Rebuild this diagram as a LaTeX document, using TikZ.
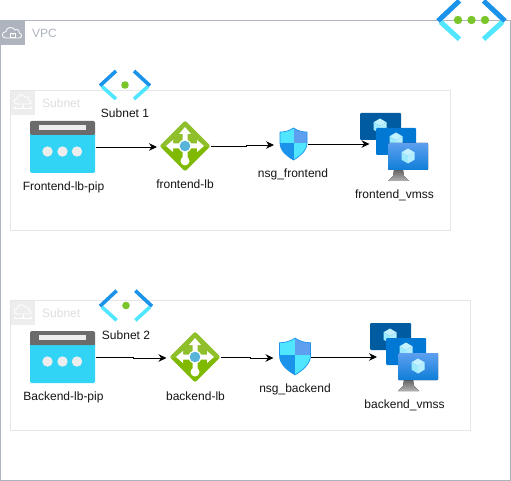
\documentclass[tikz,border=0pt]{standalone}
\usepackage{fontspec}
\setmainfont{Liberation Sans}
\usetikzlibrary{arrows.meta}
\definecolor{vpcgray}{HTML}{AEB4BD}
\definecolor{subgray}{HTML}{E6E6E6}
\definecolor{azdark}{HTML}{1B93EB}
\definecolor{azlight}{HTML}{50E6FF}
\definecolor{azgreen}{HTML}{7FBA00}
\definecolor{azgreenb}{HTML}{8FBF2A}
\definecolor{azdot}{HTML}{7AC52A}
\definecolor{lbblue}{HTML}{59B4D9}
\definecolor{pipcyan}{HTML}{32D4F5}
\definecolor{pipgray}{HTML}{6B6B6B}
\definecolor{vmdark}{HTML}{005BA1}
\definecolor{vmmid}{HTML}{0078D4}
\definecolor{vmtop}{HTML}{5EA0EF}
\definecolor{cubea}{HTML}{C3F1FF}
\definecolor{cubeb}{HTML}{9CEBFF}
\definecolor{cubec}{HTML}{B5EFFF}
\definecolor{shieldtop}{HTML}{5EA0EF}
\newcommand\netw{3.6pt}
\tikzset{
  x=1pt,y=-1pt,
  lbl/.style={font=\fontsize{12}{14}\selectfont,text=black!92,inner sep=0pt},
  anchorbox/.style={inner sep=0pt,outer sep=0pt},
  groupbox/.style={line width=0.8pt,anchor=north west,inner sep=0pt,outer sep=0pt},
  flow/.style={draw=black,line width=0.8pt,-{Stealth[length=8pt,width=7.5pt]}},
  cube/.pic={
    \fill[cubea] (0,-7.5) -- (6.5,-3.7) -- (0,0) -- (-6.5,-3.7) -- cycle;
    \fill[cubeb] (-6.5,-3.7) -- (0,0) -- (0,7.5) -- (-6.5,3.7) -- cycle;
    \fill[cubec] (6.5,-3.7) -- (0,0) -- (0,7.5) -- (6.5,3.7) -- cycle;
  },
  pipicon/.pic={
    \fill[pipcyan,rounded corners=1.5pt] (-32.5,-14) rectangle (32.5,26);
    \fill[pipgray,rounded corners=1.5pt] (-32.5,-26) rectangle (32.5,-12);
    \fill[pipgray] (-32.5,-18) rectangle (32.5,-12.5);
    \fill[white!93!black] (-23.5,-22) rectangle (23.5,-17);
    \foreach \cx in {-15,0,14.5} \fill[white!93!black] (\cx,4.5) circle[radius=5.2];
  },
  lbicon/.pic={
    \fill[azgreenb,rounded corners=2pt] (0,-25.5) -- (25.5,0) -- (0,25.5) -- (-25.5,0) -- cycle;
    \fill[azgreen,rounded corners=1.5pt] (-24,1) -- (0,25) -- (24,1) -- cycle;
    \fill[white] (0,-19) -- (6,-12) -- (2.5,-12) -- (2.5,12) -- (-2.5,12) -- (-2.5,-12) -- (-6,-12) -- cycle;
    \fill[white] (-19,0) -- (-12,-6) -- (-12,-2.5) -- (12,-2.5) -- (12,-6) -- (19,0) -- (12,6) -- (12,2.5) -- (-12,2.5) -- (-12,6) -- cycle;
    \fill[white] (0,15) circle[radius=4.5];
    \fill[white] (0,0) circle[radius=6.5];
    \fill[lbblue] (0,0) circle[radius=5.3];
  },
  shieldicon/.pic={
    \def\shieldpath{(0,-16) .. controls (5,-12.5) and (10,-12) .. (13.5,-12) -- (13.5,-1) .. controls (13.5,7) and (6,12.5) .. (0,16) .. controls (-6,12.5) and (-13.5,7) .. (-13.5,-1) -- (-13.5,-12) .. controls (-10,-12) and (-5,-12.5) .. (0,-16) -- cycle}
    \begin{scope}
      \clip \shieldpath;
      \fill[azlight] (-15,-17) rectangle (0,-1);
      \fill[shieldtop] (0,-17) rectangle (15,-1);
      \fill[azdark] (-15,-1) rectangle (0,17);
      \fill[azlight] (0,-1) rectangle (15,17);
    \end{scope}
    \draw[azdark,line width=0.7pt,line join=round] \shieldpath;
  },
  vmssicon/.pic={
    \fill[vmdark,rounded corners=1pt] (0,0) rectangle (41,27);
    \pic at (20,13) {cube};
    \fill[vmmid,rounded corners=1pt] (16,15) rectangle (56,42);
    \pic at (36,27) {cube};
    \fill[top color=black!60,bottom color=black!30] (34,57) -- (43,57) -- (44,63) -- (49,68) -- (28,68) -- (33,63) -- cycle;
    \fill[rounded corners=1pt,top color=vmtop,bottom color=vmmid!85!vmtop] (28,30) rectangle (68,57);
    \pic at (48,43) {cube};
  },
  networkicon/.pic={
    \draw[azdark,line width=\netw,line cap=butt] (-25,0.7) -- (-9,-14);
    \draw[azdark,line width=\netw,line cap=butt] (25,0.7) -- (9,-14);
    \draw[azlight,line width=\netw,line cap=butt] (-23,1.5) -- (-9,14);
    \draw[azlight,line width=\netw,line cap=butt] (23,1.5) -- (9,14);
  },
  cloudtag/.pic={
    \draw[white,line width=0.8pt,line join=round] (-7,5) .. controls (-12,5) and (-12,-1) .. (-7,-1.5) .. controls (-7,-6) and (0,-7) .. (2,-3) .. controls (5,-4.5) and (7,-2) .. (6.5,0) .. controls (9.5,1) and (9,5) .. (6,5) -- cycle;
  }
}
\begin{document}
\begin{tikzpicture}[x=1pt,y=-1pt]
\useasboundingbox (0,0) rectangle (511,481);
\fill[white] (0,0) rectangle (511,481);
% VPC group
\node[groupbox,draw=vpcgray,minimum width=509.8pt,minimum height=459.6pt] (vpc) at (0.5,20.4) {};
\fill[vpcgray] (0,20) rectangle (25,45);
\pic at (13,33) {cloudtag};
\draw[white,line width=0.7pt] (10.5,33) rectangle (15.5,37);
\draw[white,line width=0.6pt] (11.5,33) arc[start angle=180,end angle=0,radius=1.5];
\node[anchor=west,inner sep=0pt,text=vpcgray,font=\fontsize{12}{14}\selectfont] (vpcl) at (32,33.5) {VPC};
% Subnets
\node[groupbox,draw=subgray,minimum width=440pt,minimum height=140pt] (sub1) at (10.3,90.3) {};
\node[groupbox,draw=subgray,minimum width=460pt,minimum height=130pt] (sub2) at (10.3,300.3) {};
\foreach \ty/\nm in {90/a,300/b}{
  \fill[white!93!black] (11,\ty+1) rectangle (35,\ty+25);
  \begin{scope}[shift={(23,\ty+12)}]
    \draw[white,line width=0.8pt,line join=round] (-6,2) .. controls (-10,2) and (-10,-3) .. (-6,-3.5) .. controls (-6,-8) and (1,-8.5) .. (2,-5) .. controls (5,-6) and (7,-3) .. (6,-1.5) .. controls (9,-1) and (9,2) .. (6,2) -- cycle;
    \draw[white,line width=0.7pt] (0,2) -- (0,6) (-8,6) -- (8,6);
    \fill[white] (-8,6) circle[radius=1.3] (8,6) circle[radius=1.3] (0,6) circle[radius=1.3];
  \end{scope}
}
\node[anchor=west,inner sep=0pt,text=black!13,font=\fontsize{12}{14}\selectfont] (subl1) at (42,103.5) {Subnet};
\node[anchor=west,inner sep=0pt,text=black!13,font=\fontsize{12}{14}\selectfont] (subl2) at (42,313.5) {Subnet};

% Anchor boxes for the icons
\node[anchorbox,minimum width=65pt,minimum height=52pt] (pip1) at (63,147) {};
\node[anchorbox,minimum width=53.5pt,minimum height=50pt] (lb1) at (183.75,146) {};
\node[anchorbox,minimum width=33.5pt,minimum height=34pt] (nsg1) at (290.75,145) {};
\node[anchorbox,minimum width=62pt,minimum height=68pt] (vm1) at (400.5,144) {};
\node[anchorbox,minimum width=65pt,minimum height=52pt] (pip2) at (63,357) {};
\node[anchorbox,minimum width=54pt,minimum height=50pt] (lb2) at (193.5,358) {};
\node[anchorbox,minimum width=37.5pt,minimum height=38pt] (nsg2) at (292.25,358) {};
\node[anchorbox,minimum width=62pt,minimum height=68pt] (vm2) at (408,357) {};

% Icons
\pic at (62.5,147) {pipicon};
\pic at (62.5,357) {pipicon};
\pic at (185,146) {lbicon};
\pic at (195,357) {lbicon};
\pic at (293.5,144) {shieldicon};
\pic[transform shape,scale=1.15] at (295,356.5) {shieldicon};
\pic at (360,113) {vmssicon};
\pic at (370,323) {vmssicon};

% Network icons
\pic at (125,85) {networkicon};
\fill[azdot] (125,85) circle[radius=3.8];
\pic[transform shape,xscale=1.04,yscale=1.06] at (126,305.5) {networkicon};
\fill[azdot] (126,305.5) circle[radius=3.8];
\begingroup
\renewcommand\netw{5pt}
\pic[transform shape,xscale=1.34,yscale=1.37] at (471.5,20) {networkicon};
\endgroup
\foreach \cx in {458,471.5,485} \fill[azdot] (\cx,20) circle[radius=4.2];

% Labels
\node[lbl] (t1) at (125,113.5) {Subnet 1};
\node[lbl] (t2) at (63.5,187) {Frontend-lb-pip};
\node[lbl] (t3) at (185,184.5) {frontend-lb};
\node[lbl] (t4) at (293,174) {nsg\_frontend};
\node[lbl] (t5) at (394.5,195) {frontend\_vmss};
\node[lbl] (t6) at (126,335) {Subnet 2};
\node[lbl] (t7) at (63.5,397) {Backend-lb-pip};
\node[lbl] (t8) at (195.5,396) {backend-lb};
\node[lbl] (t9) at (295,389) {nsg\_backend};
\node[lbl] (t10) at (404.5,405) {backend\_vmss};

% Connectors
\draw[flow] (pip1.east) -- (pip1.east -| lb1.west);
\draw[flow] (lb1.east) -- ++(36,0) |- (nsg1.west);
\draw[flow] (nsg1.east |- vm1.west) -- (vm1.west);
\draw[flow] (pip2.east) -- ++(38,0) |- (lb2.west);
\draw[flow] (lb2.east |- pip2.east) -- ++(30,0) |- (nsg2.west);
\draw[flow] (nsg2.east |- vm2.west) -- (vm2.west);
\end{tikzpicture}
\end{document}
